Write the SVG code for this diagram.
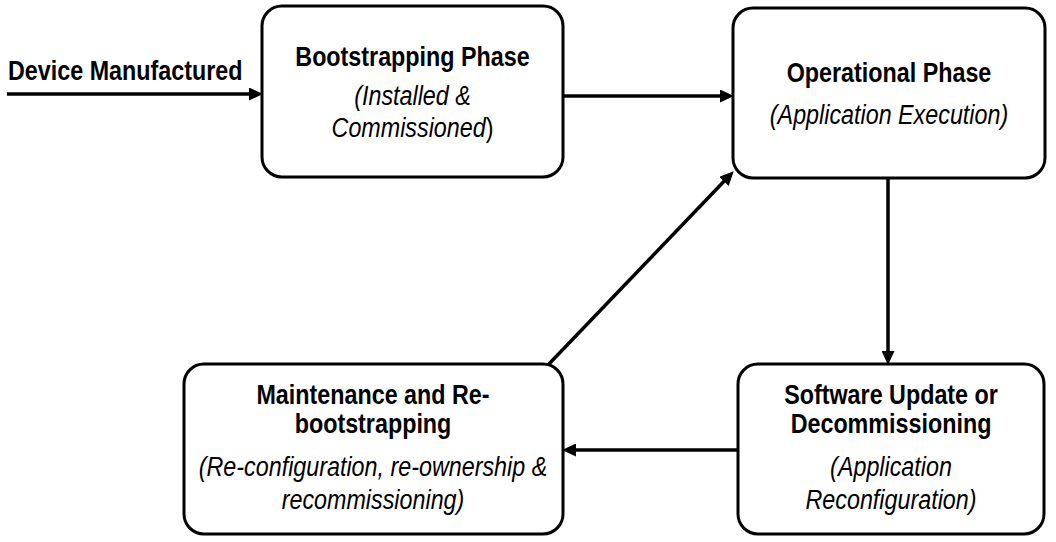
<svg xmlns="http://www.w3.org/2000/svg" width="1056" height="542" viewBox="0 0 1056 542">
<defs>
<marker id="ah" markerUnits="userSpaceOnUse" markerWidth="14" markerHeight="13" refX="7" refY="6.5" orient="auto"><path d="M0,0 L14,6.5 L0,13 z" fill="#000"/></marker>
<style>
.box{fill:#fff;stroke:#000;stroke-width:3}
.t{font-family:"Liberation Sans",Arial,sans-serif;font-size:28px;fill:#000;text-anchor:middle}
.b{font-weight:bold}
.i{font-style:italic}
.c{fill:none;stroke:#000;stroke-width:3.5;marker-end:url(#ah)}
</style>
</defs>
<rect width="1056" height="542" fill="#fff"/>
<g id="connectors">
<path class="c" d="M7,94 L256,94"/>
<path class="c" d="M563,96 L727,96"/>
<path class="c" d="M888,178 L888,358"/>
<path class="c" d="M738,450 L569,450"/>
<path class="c" d="M548,365 L728.85,176.33"/>
</g>
<g id="start">
<g transform="translate(8,0) scale(0.833,1)"><text class="t b" x="0" y="80" style="text-anchor:start">Device Manufactured</text></g>
</g>
<g id="bootstrapping">
<rect class="box" x="262" y="6" width="301" height="171" rx="20"/>
<g transform="translate(412.5,0) scale(0.833,1)">
<text class="t b" x="0" y="66">Bootstrapping Phase</text>
<text class="t i" x="0" y="105">(Installed &amp;</text>
<text class="t i" x="0" y="137">Commissioned<tspan style="font-style:normal">)</tspan></text>
</g>
</g>
<g id="operational">
<rect class="box" x="733" y="8" width="312" height="170" rx="20"/>
<g transform="translate(889,0) scale(0.833,1)">
<text class="t b" x="0" y="82">Operational Phase</text>
<text class="t i" x="0" y="124">(Application Execution)</text>
</g>
</g>
<g id="software-update">
<rect class="box" x="738" y="364" width="306" height="170" rx="20"/>
<g transform="translate(891,0) scale(0.833,1)">
<text class="t b" x="0" y="404">Software Update or</text>
<text class="t b" x="0" y="433">Decommissioning</text>
<text class="t i" x="0" y="476">(Application</text>
<text class="t i" x="0" y="509">Reconfiguration)</text>
</g>
</g>
<g id="maintenance">
<rect class="box" x="184" y="364" width="379" height="170" rx="20"/>
<g transform="translate(373,0) scale(0.833,1)">
<text class="t b" x="0" y="404">Maintenance and Re-</text>
<text class="t b" x="0" y="433">bootstrapping</text>
<text class="t i" x="0" y="476">(Re-configuration, re-ownership &amp;</text>
<text class="t i" x="0" y="509">recommissioning)</text>
</g>
</g>
</svg>
